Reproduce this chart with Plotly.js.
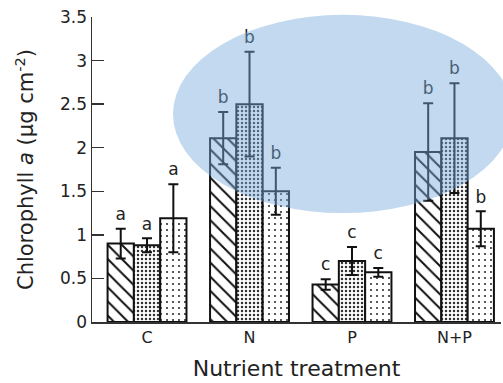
<!DOCTYPE html>
<html>
<head>
<meta charset="utf-8">
<script src="https://cdn.plot.ly/plotly-3.0.1.min.js"></script>
<style>html,body{margin:0;padding:0;background:#fff;}#chart{width:503px;height:383px;}</style>
</head>
<body>
<div id="chart"></div>
<script>
const categories = ["C", "N", "P", "N+P"];
const series1 = [0.90, 2.11, 0.43, 1.95];
const err1 = [0.17, 0.30, 0.06, 0.56];
const series2 = [0.88, 2.50, 0.70, 2.11];
const err2 = [0.08, 0.60, 0.16, 0.63];
const series3 = [1.19, 1.50, 0.57, 1.07];
const err3 = [0.39, 0.27, 0.05, 0.20];
const letters1 = ["a", "b", "c", "b"];
const letters2 = ["a", "b", "c", "b"];
const letters3 = ["a", "b", "c", "b"];

const xs = categories.map((c, i) => i);
const bargap = 0.23;
const bw = (1 - bargap) / 3;
const letterPad = 0.15;
const FONT = "DejaVu Sans, Verdana, sans-serif";

const patterns = [
  {shape: "\\", size: 10, solidity: 0.2, fgcolor: "#111", bgcolor: "#fff", fillmode: "replace"},
  {shape: ".", size: 4, solidity: 0.3, fgcolor: "#333", bgcolor: "#fff", fillmode: "replace"},
  {shape: ".", size: 6, solidity: 0.09, fgcolor: "#222", bgcolor: "#fff", fillmode: "replace"}
];
const vals = [series1, series2, series3];
const errs = [err1, err2, err3];
const lets = [letters1, letters2, letters3];

const traces = [];
vals.forEach((v, k) => {
  traces.push({
    type: "bar", x: xs, y: v,
    marker: {color: "#fff", pattern: patterns[k], line: {color: "#111", width: 2}},
    error_y: {type: "data", array: errs[k], visible: true, color: "#111", thickness: 2, width: 5},
    showlegend: false, hoverinfo: "skip"
  });
});
vals.forEach((v, k) => {
  traces.push({
    type: "scatter", mode: "text",
    x: xs.map(i => i + (k - 1) * bw),
    y: v.map((val, i) => val + errs[k][i] + letterPad),
    text: lets[k], textposition: "middle center",
    textfont: {family: FONT, size: 17, color: "#222"},
    cliponaxis: false, showlegend: false, hoverinfo: "skip"
  });
});

const layout = {
  width: 503, height: 383,
  margin: {l: 92, r: 2, t: 17, b: 61},
  paper_bgcolor: "#fff", plot_bgcolor: "#fff",
  barmode: "group", bargap: bargap, bargroupgap: 0,
  font: {family: FONT, color: "#222"},
  xaxis: {
    type: "linear", range: [-0.537, 3.454],
    tickvals: xs, ticktext: categories,
    showgrid: false, zeroline: false, showline: true, linecolor: "#333", linewidth: 1.5,
    ticks: "", tickfont: {family: FONT, size: 16, color: "#222"},
    title: {text: "Nutrient treatment", font: {family: FONT, size: 22, color: "#222"}, standoff: 15}
  },
  yaxis: {
    range: [0, 3.5], dtick: 0.5, tick0: 0,
    showgrid: false, zeroline: false, showline: true, linecolor: "#333", linewidth: 1.5,
    ticks: "inside", ticklen: 12, tickwidth: 1.5, tickcolor: "#333",
    tickfont: {family: FONT, size: 17, color: "#222"},
    title: {text: "Chlorophyll <i>a</i> (µg cm<sup>-2</sup>)", font: {family: FONT, size: 21, color: "#222"}, standoff: 20}
  },
  shapes: [{
    type: "circle", xref: "paper", yref: "paper", layer: "above",
    x0: 0.198, x1: 1.029, y0: 0.357, y1: 1.007,
    fillcolor: "rgba(120,170,220,0.45)", line: {width: 0}
  }]
};

Plotly.newPlot("chart", traces, layout, {displayModeBar: false, staticPlot: true});
</script>
</body>
</html>
